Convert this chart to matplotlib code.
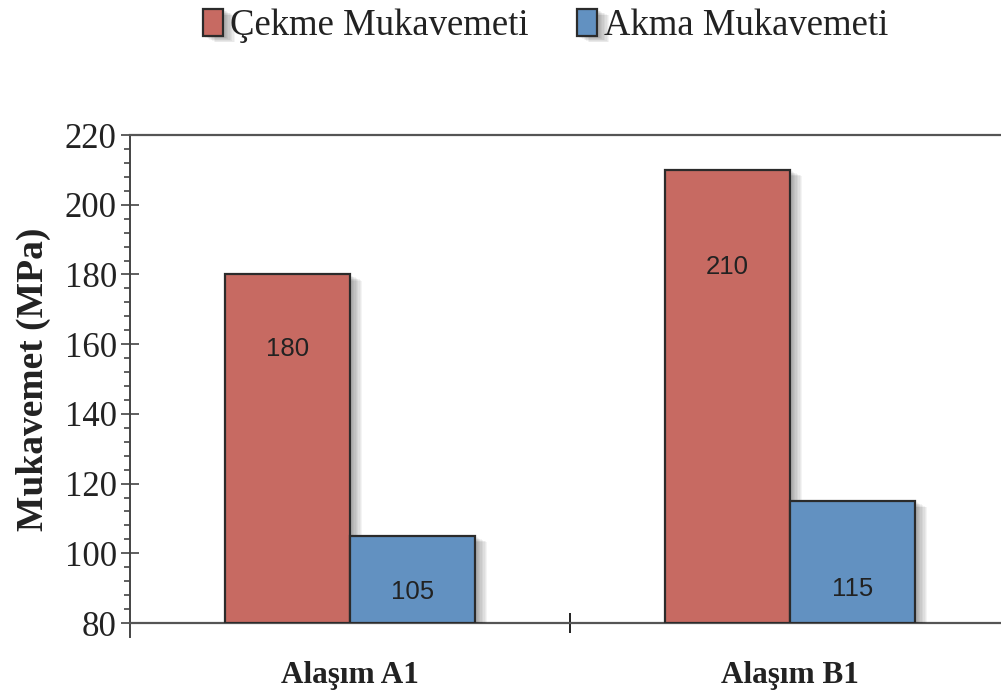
import matplotlib
matplotlib.use("Agg")
import matplotlib.pyplot as plt
import matplotlib.patheffects as pe
from matplotlib.ticker import MultipleLocator, FixedLocator
import numpy as np

# Data
categories = ["Alaşım A1", "Alaşım B1"]
series_names = ["Çekme Mukavemeti", "Akma Mukavemeti"]
cekme = [180, 210]
akma = [105, 115]

# Styling
colors = ["#C76A62", "#6291C1"]
edge = "#2B2B2B"
serif = ["Liberation Serif", "DejaVu Serif"]
sans = ["Liberation Sans", "DejaVu Sans"]
bar_w = 0.284
label_frac = [0.785, 0.785]        # value label height within the red bars
label_low = [9.0, 9.8]             # value label offset above baseline for blue bars

fig = plt.figure(figsize=(10.01, 6.90), dpi=100)
ax = fig.add_axes([0.1299, 0.0971, 0.879, 0.7072])

x = np.arange(len(categories))
base = 80

shadow = [pe.SimplePatchShadow(offset=(k, -k * 0.5), shadow_rgbFace="#000000", alpha=0.045)
          for k in range(1, 10)] + [pe.Normal()]

b1 = ax.bar(x - bar_w / 2, np.array(cekme) - base, bottom=base, width=bar_w,
            color=colors[0], edgecolor=edge, linewidth=1.6, label=series_names[0], zorder=3)
b2 = ax.bar(x + bar_w / 2, np.array(akma) - base, bottom=base, width=bar_w,
            color=colors[1], edgecolor=edge, linewidth=1.6, label=series_names[1], zorder=3)
for r in list(b1) + list(b2):
    r.set_path_effects(shadow)

# value labels
for i, v in enumerate(cekme):
    ax.text(x[i] - bar_w / 2, base + (v - base) * label_frac[i], f"{v}",
            ha="center", va="center", fontsize=18.5, family=sans, color="#222222", zorder=4)
for i, v in enumerate(akma):
    ax.text(x[i] + bar_w / 2, base + label_low[i], f"{v}",
            ha="center", va="center", fontsize=18.5, family=sans, color="#222222", zorder=4)

ax.set_xlim(-0.5, 1.5)
ax.set_ylim(80, 220)

# spines
ax.spines["right"].set_visible(False)
ax.spines["top"].set_color("#555555")
ax.spines["top"].set_linewidth(1.6)
ax.spines["bottom"].set_color("#555555")
ax.spines["bottom"].set_linewidth(1.6)
ax.spines["left"].set_color("#444444")
ax.spines["left"].set_linewidth(1.4)
ax.spines["left"].set_bounds(76, 220)

# y axis ticks
ax.yaxis.set_major_locator(MultipleLocator(20))
ax.yaxis.set_minor_locator(MultipleLocator(4))
ax.tick_params(axis="y", which="major", direction="inout", length=13, width=1.2,
               color="#444444", pad=3, labelsize=25)
ax.tick_params(axis="y", which="minor", direction="out", length=4.5, width=1.2, color="#444444")
for t in ax.get_yticklabels():
    t.set_family(serif)
    t.set_color("#222222")

# x axis: category labels without ticks, one separator tick in between
ax.set_xticks(x)
ax.set_xticklabels(categories, family=serif, fontweight="bold", fontsize=22.5, color="#222222")
ax.tick_params(axis="x", which="major", length=0, pad=27)
ax.xaxis.set_minor_locator(FixedLocator([0.5]))
ax.tick_params(axis="x", which="minor", direction="inout", length=14, width=1.4, color="#222222")

ax.set_ylabel("Mukavemet (MPa)", family=serif, fontweight="bold", fontsize=27,
              color="#222222", labelpad=10)

leg = fig.legend(handles=[b1, b2], labels=series_names, loc="upper center",
                 bbox_to_anchor=(0.545, 1.035), ncol=2, frameon=False,
                 prop={"family": serif, "size": 26.5}, handlelength=0.55, handleheight=0.75,
                 handletextpad=0.2, columnspacing=1.3, labelcolor="#222222")

fig.savefig("out.png", dpi=100)
